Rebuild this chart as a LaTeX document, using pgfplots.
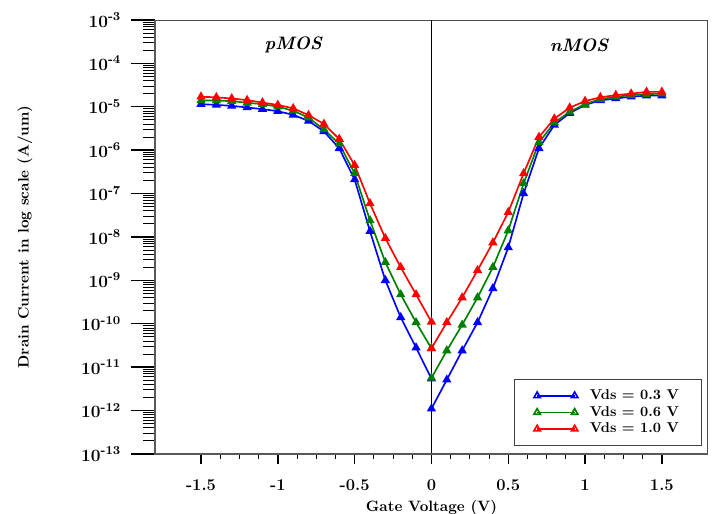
\documentclass[border=0pt]{standalone}
\usepackage{pgfplots}
\pgfplotsset{compat=1.18}
\usepackage{pgfplotstable}
\definecolor{cb}{RGB}{0,0,255}
\definecolor{cg}{RGB}{0,128,0}
\definecolor{cr}{RGB}{255,0,0}
\pgfplotstableread{
v b g r
-1.5 1.15e-5 1.4e-5 1.7e-5
-1.4 1.1e-5 1.38e-5 1.65e-5
-1.3 1.05e-5 1.35e-5 1.55e-5
-1.2 9.6e-6 1.23e-5 1.42e-5
-1.1 8.8e-6 1.15e-5 1.25e-5
-1.0 7.9e-6 1.0e-5 1.1e-5
-0.9 6.5e-6 8.1e-6 9.2e-6
-0.8 4.7e-6 5.6e-6 6.4e-6
-0.7 2.7e-6 3.0e-6 4.0e-6
-0.6 1.1e-6 1.4e-6 1.8e-6
-0.5 2.1e-7 2.9e-7 4.5e-7
-0.4 1.35e-8 2.4e-8 5.9e-8
-0.3 1.0e-9 2.6e-9 9.3e-9
-0.2 1.4e-10 4.7e-10 2.0e-9
-0.1 2.8e-11 1.07e-10 4.7e-10
0 5.4e-12 2.7e-11 1.1e-10
}\pdata
\pgfplotstableread{
v b g r
0 1.1e-12 5.6e-12 2.7e-11
0.1 5.1e-12 2.4e-11 1.07e-10
0.2 2.4e-11 9.4e-11 4.0e-10
0.3 1.07e-10 4.0e-10 1.7e-9
0.4 6.5e-10 2.0e-9 7.4e-9
0.5 5.7e-9 1.4e-8 3.7e-8
0.6 1.0e-7 1.7e-7 2.9e-7
0.7 1.1e-6 1.5e-6 2.0e-6
0.8 3.8e-6 4.3e-6 5.3e-6
0.9 7.1e-6 7.6e-6 9.5e-6
1.0 1.1e-5 1.15e-5 1.35e-5
1.1 1.4e-5 1.5e-5 1.65e-5
1.2 1.55e-5 1.7e-5 1.85e-5
1.3 1.7e-5 1.85e-5 2.0e-5
1.4 1.8e-5 1.95e-5 2.2e-5
1.5 1.8e-5 2.0e-5 2.2e-5
}\ndata
\begin{document}
\begin{tikzpicture}
% y ticks with long tick marks
\begin{axis}[
  ymode=log,
  at={(0,0)}, anchor=south west,
  scale only axis, width=368.7pt, height=289.3pt,
  xmin=-1.8, xmax=1.8, ymin=1e-13, ymax=1e-3,
  tick align=outside,
  major tick style={black, line width=0.9pt},
  minor tick style={black, line width=0.5pt},
  xtick=\empty, ytick pos=left,
  axis line style={draw=none},
  major tick length=16pt, minor tick length=8pt,
  ytick={1e-13,1e-12,1e-11,1e-10,1e-9,1e-8,1e-7,1e-6,1e-5,1e-4,1e-3},
  yticklabels={10\textsuperscript{-13},10\textsuperscript{-12},10\textsuperscript{-11},10\textsuperscript{-10},10\textsuperscript{-9},10\textsuperscript{-8},10\textsuperscript{-7},10\textsuperscript{-6},10\textsuperscript{-5},10\textsuperscript{-4},10\textsuperscript{-3}},
  yticklabel style={font=\bfseries\fontsize{11.5}{13}\selectfont, xshift=-3pt},
]
\addplot[draw=none, forget plot] coordinates {(0,1e-8)};
\end{axis}
% data axis
\begin{axis}[
  ymode=log,
  at={(0,0)}, anchor=south west,
  scale only axis, width=368.7pt, height=289.3pt,
  xmin=-1.8, xmax=1.8, ymin=1e-13, ymax=1e-3,
  tick align=outside,
  major tick style={black, line width=0.9pt},
  minor tick style={black, line width=0.5pt},
  clip=false,
  xtick={-1.5,-1,-0.5,0,0.5,1,1.5},
  xticklabels={-1.5,-1,-0.5,0,0.5,1,1.5},
  minor x tick num=3,
  ytick=\empty, xtick pos=left,
  major tick length=7pt, minor tick length=3.5pt,
  axis line style={black!70, line width=0.6pt},
  xticklabel style={font=\bfseries\fontsize{11}{12}\selectfont, yshift=-7pt},
  xlabel={Gate Voltage (V)},
  ylabel={Drain Current in log scale (A/um)},
  xlabel style={at={(axis description cs:0.5,-0.125)}, anchor=center, font=\bfseries},
  ylabel style={at={(axis description cs:-0.235,0.5)}, anchor=center, font=\bfseries},
  legend style={at={(axis description cs:0.989,0.018)}, anchor=south east,
    draw=black!75, line width=0.6pt, font=\bfseries\fontsize{9.5}{11}\selectfont,
    inner xsep=13pt, inner ysep=5pt,
    row sep=-1pt, cells={anchor=west}},
  legend image code/.code={\draw[#1, mark=triangle, mark options={solid, fill=white, scale=1}] plot coordinates {(0pt,0pt) (25pt,0pt)};},
  every axis plot/.append style={line width=1.1pt, mark=triangle*, mark size=2.5pt},
]
\draw[black, line width=0.6pt] (axis cs:0,1e-13) -- (axis cs:0,1e-3);
\draw[black!65, line width=1.2pt] (rel axis cs:0,1) -- (rel axis cs:0,0) -- (rel axis cs:1,0);
\addplot[cb, mark options={fill=cb}] table[x=v, y=b] {\pdata};
\addlegendentry{\hspace*{6pt}Vds = 0.3 V}
\addplot[cg, mark options={fill=cg}] table[x=v, y=g] {\pdata};
\addlegendentry{\hspace*{6pt}Vds = 0.6 V}
\addplot[cr, mark options={fill=cr}] table[x=v, y=r] {\pdata};
\addlegendentry{\hspace*{6pt}Vds = 1.0 V}
\addplot[cb, mark options={fill=cb}, forget plot] table[x=v, y=b] {\ndata};
\addplot[cg, mark options={fill=cg}, forget plot] table[x=v, y=g] {\ndata};
\addplot[cr, mark options={fill=cr}, forget plot] table[x=v, y=r] {\ndata};
\node[font=\bfseries\itshape\large] at (axis cs:-0.9,2.6e-4) {pMOS};
\node[font=\bfseries\itshape\large] at (axis cs:0.96,2.6e-4) {nMOS};
\end{axis}
\pgfresetboundingbox
\path (-103.3pt,-40pt) rectangle (371.4pt,302.6pt);
\end{tikzpicture}
\end{document}
